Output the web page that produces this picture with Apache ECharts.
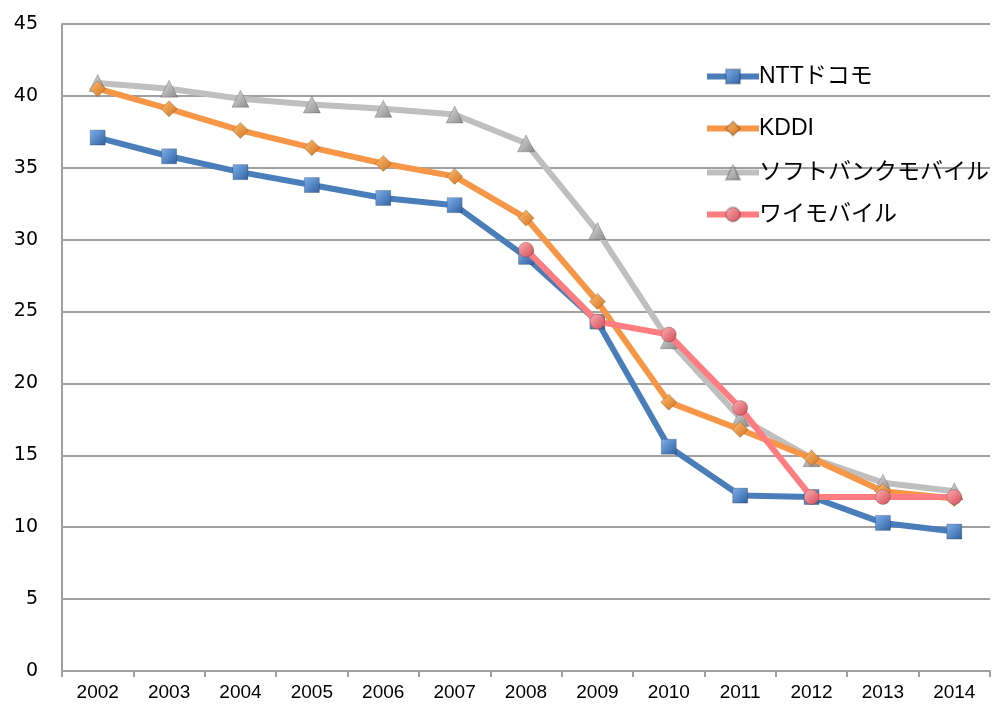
<!DOCTYPE html>
<html><head><meta charset="utf-8">
<script src="https://cdn.jsdelivr.net/npm/echarts@6/dist/echarts.min.js"></script>
<style>html,body{margin:0;padding:0;background:#fff}#c{width:992px;height:705px}</style>
</head><body><div id="c"></div>
<script>
const years = ['2002','2003','2004','2005','2006','2007','2008','2009','2010','2011','2012','2013','2014'];
const yTicks = [0,5,10,15,20,25,30,35,40,45];
const ntt = [37.1,35.8,34.7,33.8,32.9,32.4,28.8,24.3,15.6,12.2,12.1,10.3,9.7];
const kddi = [40.5,39.1,37.6,36.4,35.3,34.4,31.5,25.7,18.7,16.8,14.8,12.5,12.0];
const softbank = [40.9,40.5,39.8,39.4,39.1,38.7,36.7,30.6,23.0,17.6,14.8,13.1,12.5];
const ymobile = [null,null,null,null,null,null,29.3,24.3,23.4,18.3,12.1,12.1,12.1];
const names = ['NTTドコモ','KDDI','ソフトバンクモバイル','ワイモバイル'];

const chart = echarts.init(document.getElementById('c'));
const font = "'Liberation Sans', Arial, 'Noto Sans CJK JP', sans-serif";
function grad(light, dark){
  return new echarts.graphic.LinearGradient(0,0,1,1,[{offset:0,color:light},{offset:1,color:dark}]);
}
function s(name, data, color, light, dark, symbol, size, z){
  return {name, type:'line', data, z, symbol, symbolSize:size, showSymbol:true,
    lineStyle:{color, width:6}, itemStyle:{color:grad(light,dark), borderColor:'rgba(0,0,0,0.2)', borderWidth:1},
    connectNulls:false, animation:false};
}
const legendTops = [65, 117, 161, 203];
const legends = names.map((n,i)=>({orient:'vertical', left:704, top:legendTops[i], padding:0, itemWidth:52, itemHeight:18,
  data:[n], lineStyle:{width:6}, selectedMode:false,
  textStyle:{fontFamily:font, fontSize:23, color:'#000', padding:[0,0,0,-5]}}));
chart.setOption({
  animation:false,
  grid:{left:62, right:2, top:24, bottom:34, containLabel:false},
  legend:legends,
  xAxis:{type:'category', data:years, boundaryGap:true,
    axisLine:{lineStyle:{color:'#a0a0a0', width:2}},
    axisTick:{show:true, length:6, lineStyle:{color:'#a0a0a0', width:2}},
    axisLabel:{fontFamily:font, fontSize:19, color:'#000', margin:12}},
  yAxis:{type:'value', min:0, max:45, interval:5,
    axisLine:{show:true, lineStyle:{color:'#a0a0a0', width:2}},
    axisTick:{show:false},
    splitLine:{lineStyle:{color:'#a0a0a0', width:2}},
    axisLabel:{fontFamily:"'DejaVu Sans', sans-serif", fontSize:19, color:'#000', margin:24}},
  series:[
    s(names[0], ntt, '#4a7ebb', '#7fb2f0', '#2f5f9e', 'rect', 15, 3),
    s(names[1], kddi, '#f79646', '#ffc070', '#d0701e', 'diamond', 16, 4),
    s(names[2], softbank, '#bfbfbf', '#e0e0e0', '#8a8a8a', 'triangle', 17, 2),
    s(names[3], ymobile, '#ff7c80', '#ffb0b3', '#d04a55', 'circle', 15, 5)
  ]
});
</script></body></html>
